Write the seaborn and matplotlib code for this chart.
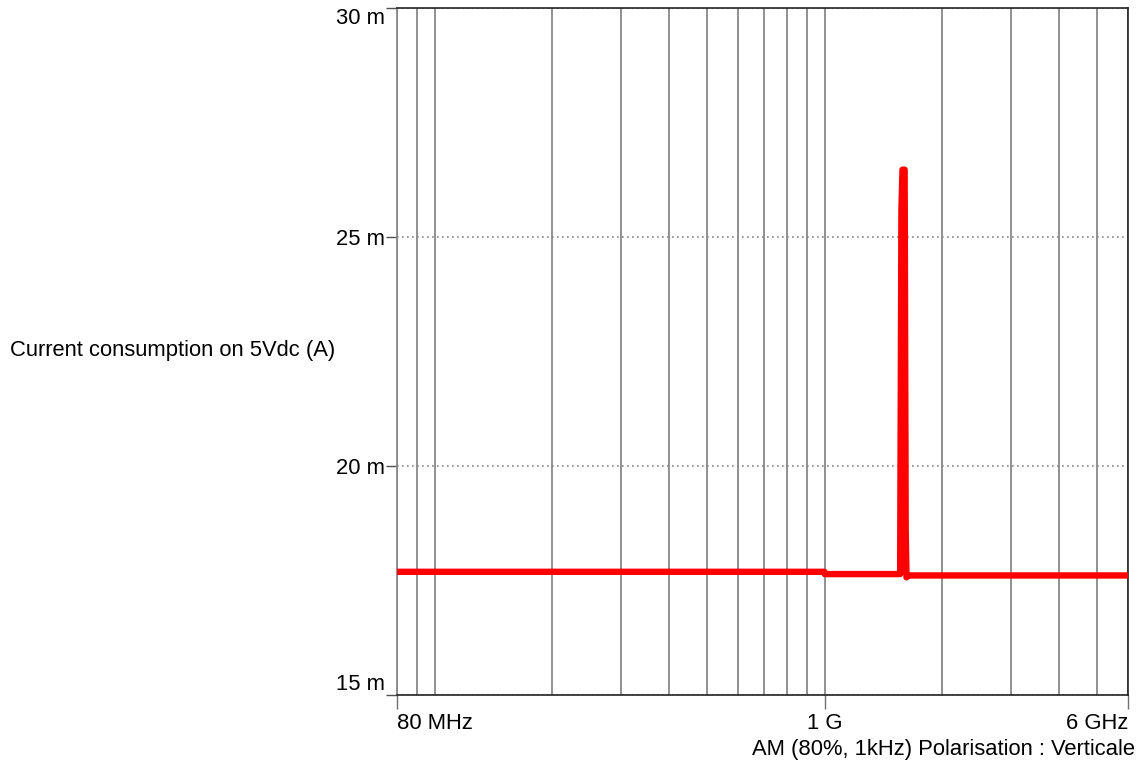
import pandas as pd
import seaborn as sns
import matplotlib.pyplot as plt
from matplotlib.ticker import FixedLocator, NullFormatter

# frequency sweep (MHz) and current on 5Vdc (A)
freq_mhz = [80, 100, 200, 400, 700, 999, 1001, 1300, 1562, 1574, 1584, 1604, 1614, 1622, 1640, 2000, 3000, 4000, 6000]
current_a = [0.01769, 0.01769, 0.01769, 0.01769, 0.01769, 0.01769, 0.01764, 0.01764, 0.01764, 0.0256, 0.02647, 0.02647,
             0.0186, 0.01757, 0.01761, 0.01761, 0.01761, 0.01761, 0.01761]

major_x = [80, 1000, 6000]
major_x_labels = ['80 MHz', '1 G', '6 GHz']
minor_x = [90, 100, 200, 300, 400, 500, 600, 700, 800, 900, 2000, 3000, 4000, 5000]
y_ticks = [0.015, 0.020, 0.025, 0.030]
y_labels = ['15 m', '20 m', '25 m', '30 m']

df = pd.DataFrame({'freq': freq_mhz, 'current': current_a})

sns.set_style('white')
plt.rcParams['font.family'] = ['Liberation Sans', 'DejaVu Sans']
plt.rcParams['text.color'] = 'black'
plt.rcParams['xtick.labelcolor'] = 'black'
plt.rcParams['ytick.labelcolor'] = 'black'

fig = plt.figure(figsize=(11.43, 7.65), dpi=100)
ax = fig.add_axes([397 / 1143, 1 - 695 / 765, (1128 - 397) / 1143, (695 - 8) / 765])

sns.lineplot(data=df, x='freq', y='current', ax=ax, color='#ff0000', linewidth=4.6,
             sort=False, estimator=None, zorder=3)

ax.set_xscale('log')
ax.set_xlim(80, 6000)
ax.set_ylim(0.015, 0.030)

ax.xaxis.set_major_locator(FixedLocator(major_x))
ax.xaxis.set_minor_locator(FixedLocator(minor_x))
ax.xaxis.set_minor_formatter(NullFormatter())
ax.set_xticks(major_x)
ax.set_xticklabels(major_x_labels)
ax.set_yticks(y_ticks)
ax.set_yticklabels(y_labels)

ax.tick_params(axis='x', which='major', direction='out', length=10, width=1, color='#707070',
               pad=3, labelsize=15.8, bottom=True, labelcolor='black')
ax.tick_params(axis='x', which='minor', length=0)
ax.tick_params(axis='y', direction='out', length=8, width=1, color='#505050', pad=1, labelsize=15.8,
               left=True, labelcolor='black')

xl = ax.get_xticklabels()
xl[0].set_ha('left')
xl[-1].set_ha('right')
yl = ax.get_yticklabels()
yl[0].set_va('bottom')
yl[-1].set_va('top')

ax.grid(True, which='both', axis='x', color='#888888', linewidth=1.3, linestyle='-')
ax.grid(True, which='major', axis='y', color='#888888', linewidth=1.2, linestyle=(0, (1, 2)))
ax.set_axisbelow(True)

for side in ['top', 'right', 'bottom']:
    ax.spines[side].set_color('#222222')
    ax.spines[side].set_linewidth(1.2)
ax.spines['left'].set_color('#888888')
ax.spines['left'].set_linewidth(1.3)

ax.set_xlabel('')
ax.set_ylabel('')
fig.text(10 / 1143, 1 - 351 / 765, 'Current consumption on 5Vdc (A)', ha='left', va='center',
         fontsize=15.8, color='black')
fig.text(752 / 1143, 1 - 749 / 765, 'AM (80%, 1kHz) Polarisation : Verticale', ha='left', va='center',
         fontsize=15.8, color='black')

fig.savefig('out.png', dpi=100)
